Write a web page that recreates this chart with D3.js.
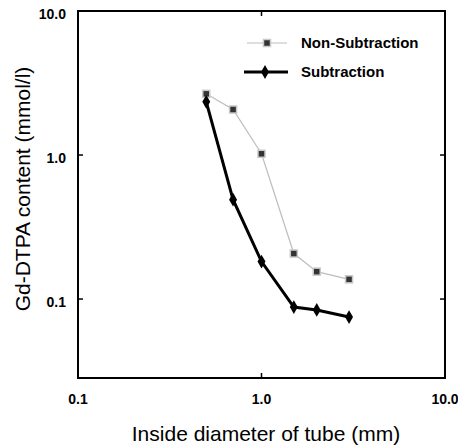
<!DOCTYPE html>
<html>
<head>
<meta charset="utf-8">
<script src="https://cdn.jsdelivr.net/npm/d3@7"></script>
<style>
  body { margin: 0; background: #fff; }
  svg text { font-family: "Liberation Sans", Arial, Helvetica, sans-serif; }
</style>
</head>
<body>
<div id="chart-area"></div>
<script>
// Data
var diameters = [0.5, 0.7, 1.0, 1.5, 2.0, 3.0];
var nonSubtraction = [2.66, 2.07, 1.02, 0.207, 0.155, 0.137];
var subtraction = [2.34, 0.49, 0.182, 0.088, 0.084, 0.075];
var xTickValues = [0.1, 1.0, 10.0];
var yTickValues = [0.1, 1.0, 10.0];
var seriesNames = ["Non-Subtraction", "Subtraction"];

var width = 458,
    height = 447;

var plotLeft = 78, plotRight = 445, plotTop = 11, plotBottom = 378;

var svg = d3.select("#chart-area")
    .append("svg")
    .attr("width", width)
    .attr("height", height);

var xScale = d3.scaleLog()
    .domain([0.1, 10])
    .range([plotLeft, plotRight]);

// bottom of frame sits a bit below 0.1 decade
var yScale = d3.scaleLog()
    .domain([0.0283, 10])
    .range([plotBottom, plotTop]);

// frame
svg.append("rect")
    .attr("x", plotLeft)
    .attr("y", plotTop)
    .attr("width", plotRight - plotLeft)
    .attr("height", plotBottom - plotTop)
    .attr("fill", "none")
    .attr("stroke", "#000")
    .attr("stroke-width", 2);

// inward ticks
var tickLen = 5;
var fmt = function(d) { return d.toFixed(1); };

svg.append("g").selectAll("line")
    .data(yTickValues)
    .enter().append("line")
    .attr("x1", plotLeft).attr("x2", plotLeft + tickLen)
    .attr("y1", function(d) { return yScale(d); })
    .attr("y2", function(d) { return yScale(d); })
    .attr("stroke", "#000").attr("stroke-width", 1.5);

svg.append("g").selectAll("line")
    .data(yTickValues)
    .enter().append("line")
    .attr("x1", plotRight).attr("x2", plotRight - tickLen)
    .attr("y1", function(d) { return yScale(d); })
    .attr("y2", function(d) { return yScale(d); })
    .attr("stroke", "#000").attr("stroke-width", 1.5);

svg.append("g").selectAll("line")
    .data(xTickValues)
    .enter().append("line")
    .attr("y1", plotBottom).attr("y2", plotBottom - tickLen)
    .attr("x1", function(d) { return xScale(d); })
    .attr("x2", function(d) { return xScale(d); })
    .attr("stroke", "#000").attr("stroke-width", 1.5);

svg.append("g").selectAll("line")
    .data(xTickValues)
    .enter().append("line")
    .attr("y1", plotTop).attr("y2", plotTop + tickLen)
    .attr("x1", function(d) { return xScale(d); })
    .attr("x2", function(d) { return xScale(d); })
    .attr("stroke", "#000").attr("stroke-width", 1.5);

// tick labels
svg.append("g").selectAll("text")
    .data(yTickValues)
    .enter().append("text")
    .attr("x", plotLeft - 12)
    .attr("y", function(d) { return yScale(d) + 3; })
    .attr("dy", "0.35em")
    .attr("text-anchor", "end")
    .attr("font-size", 14)
    .attr("font-weight", "bold")
    .text(fmt);

svg.append("g").selectAll("text")
    .data(xTickValues)
    .enter().append("text")
    .attr("x", function(d) { return xScale(d); })
    .attr("y", 404)
    .attr("text-anchor", "middle")
    .attr("font-size", 14)
    .attr("font-weight", "bold")
    .text(fmt);

// axis titles
svg.append("text")
    .attr("text-anchor", "middle")
    .attr("transform", "translate(266,441)")
    .attr("font-size", 21)
    .text("Inside diameter of tube (mm)");

svg.append("text")
    .attr("text-anchor", "middle")
    .attr("transform", "translate(30,189)rotate(-90)")
    .attr("font-size", 21)
    .text("Gd-DTPA content (mmol/l)");

var line = d3.line()
    .x(function(d) { return xScale(d[0]); })
    .y(function(d) { return yScale(d[1]); });

var nonSubData = diameters.map(function(d, i) { return [d, nonSubtraction[i]]; });
var subData = diameters.map(function(d, i) { return [d, subtraction[i]]; });

// Non-Subtraction series
svg.append("path")
    .datum(nonSubData)
    .attr("d", line)
    .attr("fill", "none")
    .attr("stroke", "#bdbdbd")
    .attr("stroke-width", 1.2);

svg.selectAll("rect.ns")
    .data(nonSubData)
    .enter().append("rect")
    .attr("class", "ns")
    .attr("x", function(d) { return xScale(d[0]) - 3.5; })
    .attr("y", function(d) { return yScale(d[1]) - 3.5; })
    .attr("width", 7).attr("height", 7)
    .attr("fill", "#333")
    .attr("stroke", "#c8c8c8")
    .attr("stroke-width", 1.5);

// Subtraction series
svg.append("path")
    .datum(subData)
    .attr("d", line)
    .attr("fill", "none")
    .attr("stroke", "#000")
    .attr("stroke-width", 3);

var diamond = d3.symbol().type(d3.symbolDiamond).size(55);

svg.selectAll("path.sub")
    .data(subData)
    .enter().append("path")
    .attr("class", "sub")
    .attr("d", diamond)
    .attr("transform", function(d) { return "translate(" + xScale(d[0]) + "," + yScale(d[1]) + ")"; })
    .attr("fill", "#000");

// legend
var legend = svg.append("g");

legend.append("line")
    .attr("x1", 247).attr("x2", 287).attr("y1", 43).attr("y2", 43)
    .attr("stroke", "#bdbdbd").attr("stroke-width", 1.2);
legend.append("rect")
    .attr("x", 267 - 3.5).attr("y", 43 - 3.5)
    .attr("width", 7).attr("height", 7)
    .attr("fill", "#333").attr("stroke", "#c8c8c8").attr("stroke-width", 1.5);
legend.append("text")
    .attr("x", 301).attr("y", 43).attr("dy", "0.35em")
    .attr("font-size", 15).attr("font-weight", "bold")
    .text(seriesNames[0]);

legend.append("line")
    .attr("x1", 244).attr("x2", 288).attr("y1", 72).attr("y2", 72)
    .attr("stroke", "#000").attr("stroke-width", 3);
legend.append("path")
    .attr("d", diamond)
    .attr("transform", "translate(265,72)")
    .attr("fill", "#000");
legend.append("text")
    .attr("x", 301).attr("y", 72).attr("dy", "0.35em")
    .attr("font-size", 15).attr("font-weight", "bold")
    .text(seriesNames[1]);
</script>
</body>
</html>
